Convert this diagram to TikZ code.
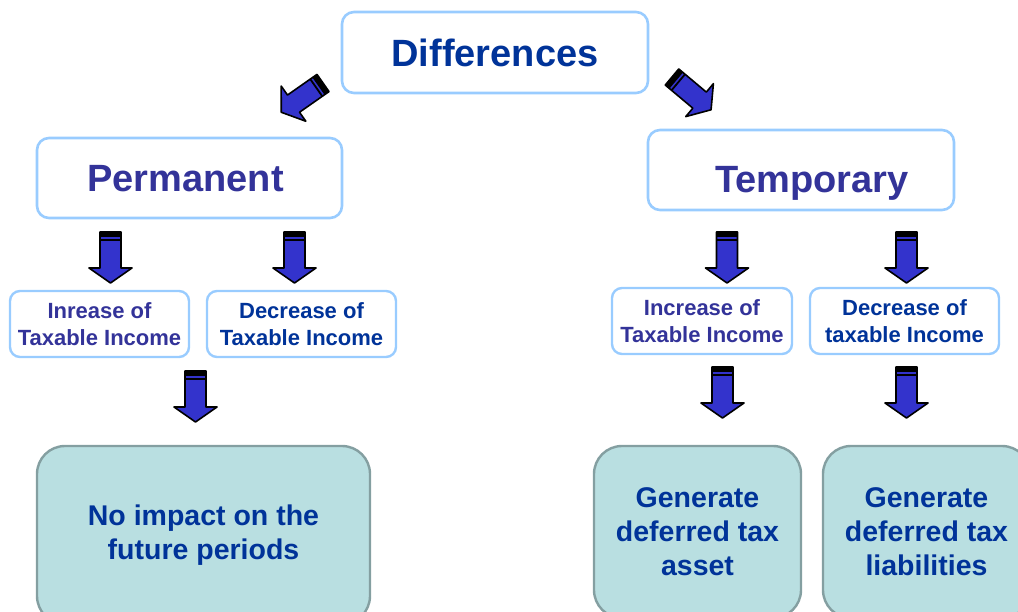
\documentclass[tikz,border=0pt]{standalone}
\usepackage{fontspec}
\setmainfont{Liberation Sans}
\definecolor{boxblue}{HTML}{99CCFF}
\definecolor{arrowblue}{HTML}{3333CC}
\definecolor{navy}{HTML}{003399}
\definecolor{indigo}{HTML}{333399}
\definecolor{tealfill}{HTML}{B9DFE1}
\definecolor{tealedge}{HTML}{849FA1}
\tikzset{
  topbox/.style={draw=boxblue, line width=2.6pt, rounded corners=12pt, fill=white,
    minimum width=306pt, minimum height=81pt, inner sep=0pt},
  bigtext/.style={text=indigo, font=\fontsize{38}{42}\selectfont\bfseries, inner sep=0pt},
  smallbox/.style={draw=boxblue, line width=2.4pt, rounded corners=10pt, fill=white,
    minimum height=66pt, inner sep=0pt, align=center,
    font=\fontsize{22}{27}\selectfont\bfseries},
  resultbox/.style={draw=tealedge, line width=2.4pt, rounded corners=28pt, fill=tealfill,
    minimum height=172pt, inner sep=0pt, align=center, text=navy,
    font=\fontsize{28.5}{34}\selectfont\bfseries},
  blockarrow/.pic={
    \fill[arrowblue] (-10.5,0) -- (10.5,0) -- (10.5,36) -- (21.5,36) -- (0,51)
      -- (-21.5,36) -- (-10.5,36) -- cycle;
    \fill[black] (-10.5,0) rectangle (10.5,5.5);
    \draw[black, line width=1.8pt] (-10.5,8.2) -- (10.5,8.2);
    \draw[black, line width=1.6pt, line join=round] (-10.5,0) -- (10.5,0) -- (10.5,36)
      -- (21.5,36) -- (0,51) -- (-21.5,36) -- (-10.5,36) -- cycle;
  }
}
\begin{document}
\begin{tikzpicture}[x=1pt, y=-1pt]
\useasboundingbox (0,0) rectangle (1018,612);
\clip (0,0) rectangle (1018,612);

% top level
\node[topbox, text=navy, font=\fontsize{38}{42}\selectfont\bfseries] (diff) at (495,52.5) {Differences};

% the two kinds of differences
\node[topbox, minimum width=305pt, minimum height=80pt] (perm) at (189.5,178) {};
\node[bigtext, anchor=base] (permtext) at (185.5,192) {Permanent};
\node[topbox, minimum width=306pt, minimum height=80pt] (temp) at (801,170) {};
\node[bigtext, anchor=base] (temptext) at (812,192.5) {Temporary};

% effect on taxable income
\node[smallbox, minimum width=179pt, text=indigo] (pinc) at (99.5,324) {Inrease of\\Taxable Income};
\node[smallbox, minimum width=189pt, text=navy] (pdec) at (301.5,324) {Decrease of\\Taxable Income};
\node[smallbox, minimum width=180pt, text=indigo] (tinc) at (702,321) {Increase of\\Taxable Income};
\node[smallbox, minimum width=189pt, text=navy] (tdec) at (904.5,321) {Decrease of\\taxable Income};

% consequences
\node[resultbox, minimum width=333pt, minimum height=178pt] (noimpact) at (203.5,535) {No impact on the\\future periods};
\node[resultbox, minimum width=207pt] (asset) at (697.5,532) {Generate\\deferred tax\\asset};
\node[resultbox, minimum width=207pt] (liab) at (926.5,532) {Generate\\deferred tax\\liabilities};

% block arrows
\pic[rotate=-55] at (323,83) {blockarrow};
\pic[rotate=50] at (672,77) {blockarrow};
\pic at (110.5,232) {blockarrow};
\pic at (294.5,232) {blockarrow};
\pic at (195.5,371) {blockarrow};
\pic at (727,232) {blockarrow};
\pic at (906.5,232) {blockarrow};
\pic at (722.5,367) {blockarrow};
\pic at (906.5,367) {blockarrow};
\end{tikzpicture}
\end{document}
